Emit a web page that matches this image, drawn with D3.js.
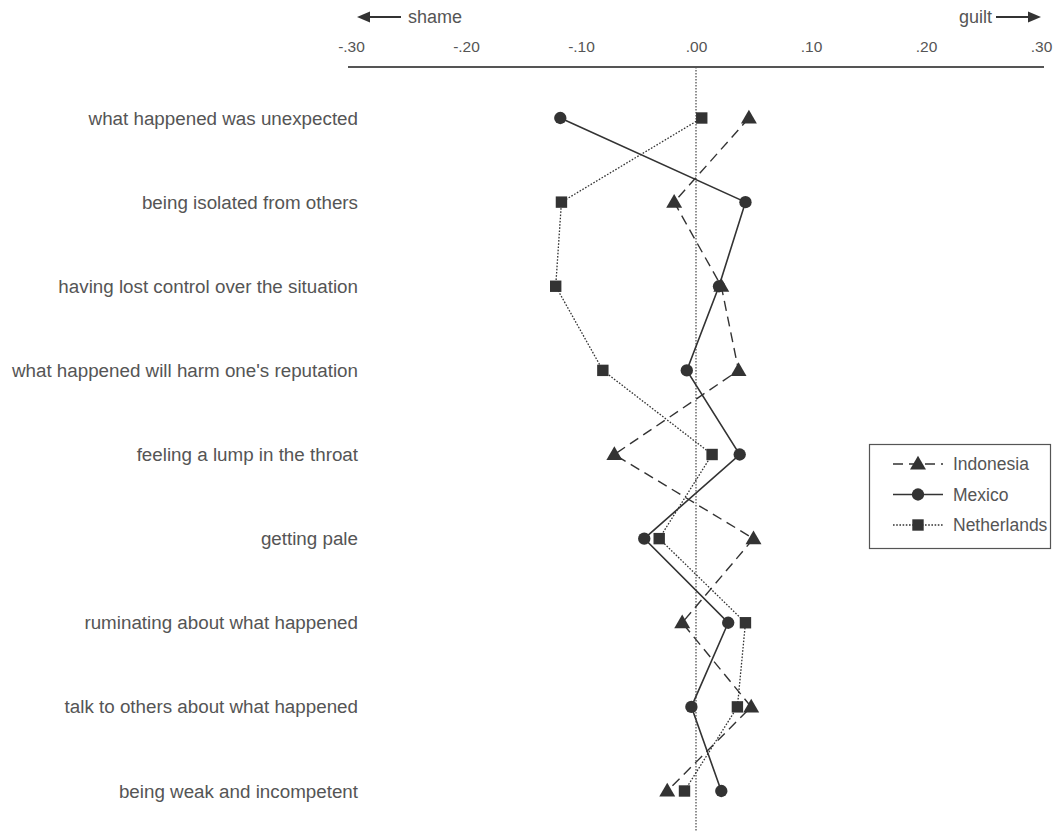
<!DOCTYPE html>
<html>
<head>
<meta charset="utf-8">
<script src="https://cdn.jsdelivr.net/npm/d3@7"></script>
<style>
  html, body { margin: 0; padding: 0; background: #fff; }
  svg { display: block; font-family: "Liberation Sans", Arial, sans-serif; }
</style>
</head>
<body>
<svg id="chart" width="1056" height="836"></svg>
<script>
// Appraisal items, top to bottom
const items = [
  "what happened was unexpected",
  "being isolated from others",
  "having lost control over the situation",
  "what happened will harm one's reputation",
  "feeling a lump in the throat",
  "getting pale",
  "ruminating about what happened",
  "talk to others about what happened",
  "being weak and incompetent"
];

// Discriminant weights per country (negative = shame, positive = guilt)
const indonesia   = [0.046, -0.019, 0.022, 0.037, -0.071, 0.050, -0.012, 0.048, -0.025];
const mexico      = [-0.118, 0.043, 0.020, -0.008, 0.038, -0.045, 0.028, -0.004, 0.022];
const netherlands = [0.005, -0.117, -0.122, -0.081, 0.014, -0.032, 0.043, 0.036, -0.010];

const tickValues = [-0.30, -0.20, -0.10, 0.00, 0.10, 0.20, 0.30];
const tickLabels = ["-.30", "-.20", "-.10", ".00", ".10", ".20", ".30"];

const seriesNames = ["Indonesia", "Mexico", "Netherlands"];

const svg = d3.select("#chart");
const ink = "#333";
const textInk = "#555";

const x = d3.scaleLinear().domain([-0.30, 0.30]).range([351, 1041]);
const y = d3.scalePoint().domain(items).range([118, 791]);

// Zero reference line
svg.append("line")
  .attr("x1", x(0)).attr("x2", x(0))
  .attr("y1", 67).attr("y2", 832)
  .attr("stroke", "#555").attr("stroke-width", 1.3)
  .attr("stroke-dasharray", "1.5,1.5");

// Top axis
const axis = d3.axisTop(x)
  .tickValues(tickValues)
  .tickFormat((d, i) => tickLabels[i])
  .tickSize(0)
  .tickPadding(15);

const gAxis = svg.append("g")
  .attr("transform", "translate(0,67)")
  .call(axis);
gAxis.select(".domain")
  .attr("d", `M${x(-0.30) - 3},0H${x(0.30) + 3}`)
  .attr("stroke", "#555").attr("stroke-width", 1.8);
gAxis.selectAll(".tick text")
  .attr("fill", textInk)
  .style("font-size", "15.5px")
  .style("font-family", "'Liberation Sans', Arial, sans-serif");

// Direction labels with arrows
function arrow(x1, x2, yy) {
  const dir = Math.sign(x2 - x1);
  const head = 13;
  svg.append("line")
    .attr("x1", x1).attr("x2", x2 - dir * head).attr("y1", yy).attr("y2", yy)
    .attr("stroke", ink).attr("stroke-width", 2);
  svg.append("path")
    .attr("d", `M${x2},${yy}L${x2 - dir * head},${yy - 5.5}L${x2 - dir * head},${yy + 5.5}Z`)
    .attr("fill", ink);
}

arrow(401, 357, 17);
svg.append("text")
  .attr("x", 408).attr("y", 23)
  .attr("fill", textInk).style("font-size", "18px")
  .text("shame");

arrow(996, 1041, 17);
svg.append("text")
  .attr("x", 992).attr("y", 23)
  .attr("text-anchor", "end")
  .attr("fill", textInk).style("font-size", "18px")
  .text("guilt");

// Item labels
svg.append("g").selectAll("text")
  .data(items)
  .join("text")
  .attr("x", 358)
  .attr("y", d => y(d) + 6.5)
  .attr("text-anchor", "end")
  .attr("fill", textInk)
  .style("font-size", "18.8px")
  .text(d => d);

// Series styles
const styles = {
  Indonesia:   { values: indonesia,   dash: "10,6", width: 1.4, symbol: d3.symbolTriangle, size: 110 },
  Mexico:      { values: mexico,      dash: null,   width: 1.6, symbol: d3.symbolCircle,   size: 120 },
  Netherlands: { values: netherlands, dash: "1.6,1.6", width: 1.3, symbol: d3.symbolSquare, size: 130 }
};

const line = d3.line()
  .x(d => x(d.v))
  .y(d => y(d.item));

seriesNames.forEach(name => {
  const s = styles[name];
  const pts = items.map((item, i) => ({ item, v: s.values[i] }));
  svg.append("path")
    .datum(pts)
    .attr("d", line)
    .attr("fill", "none")
    .attr("stroke", ink)
    .attr("stroke-width", s.width)
    .attr("stroke-dasharray", s.dash);
});

seriesNames.forEach(name => {
  const s = styles[name];
  const pts = items.map((item, i) => ({ item, v: s.values[i] }));
  const sym = d3.symbol().type(s.symbol).size(s.size);
  svg.append("g").selectAll("path")
    .data(pts)
    .join("path")
    .attr("d", sym)
    .attr("transform", d => `translate(${x(d.v)},${y(d.item) + (s.symbol === d3.symbolTriangle ? 1 : 0)})`)
    .attr("fill", ink);
});

// Legend
const legend = svg.append("g").attr("transform", "translate(869,444)");
legend.append("rect")
  .attr("x", 0.5).attr("y", 0.5)
  .attr("width", 181).attr("height", 104)
  .attr("fill", "#fff")
  .attr("stroke", "#555").attr("stroke-width", 1.2);

seriesNames.forEach((name, i) => {
  const s = styles[name];
  const ly = 20 + i * 30.5;
  legend.append("line")
    .attr("x1", 24).attr("x2", 74).attr("y1", ly).attr("y2", ly)
    .attr("stroke", ink).attr("stroke-width", s.width)
    .attr("stroke-dasharray", s.dash);
  legend.append("path")
    .attr("d", d3.symbol().type(s.symbol).size(s.size)())
    .attr("transform", `translate(49,${ly + (s.symbol === d3.symbolTriangle ? 1 : 0)})`)
    .attr("fill", ink);
  legend.append("text")
    .attr("x", 84).attr("y", ly + 6)
    .attr("fill", textInk)
    .style("font-size", "17.5px")
    .text(name);
});
</script>
</body>
</html>
